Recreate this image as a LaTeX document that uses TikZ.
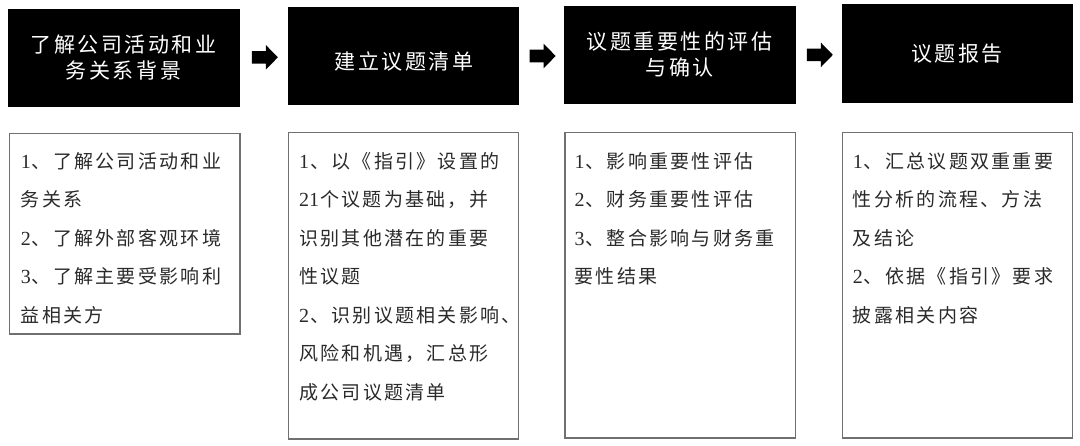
\documentclass[tikz,border=0pt]{standalone}
\usepackage{fontspec}
\newfontfamily\cjk[LetterSpace=12]{Noto Sans CJK SC}
\newfontfamily\num{Liberation Serif}
\usetikzlibrary{calc}
\definecolor{boxgray}{HTML}{707070}
\definecolor{txt}{HTML}{2A2A2A}
\tikzset{
  hdr/.style={fill=black, draw=black, anchor=north west, inner sep=0pt,
    text=white, align=center, font=\cjk\fontsize{21}{26}\selectfont},
  hdrtext/.style={inner sep=0pt, text=white, align=center,
    font=\cjk\fontsize{21}{26}\selectfont},
  bodybox/.style={draw=boxgray, line width=1.5pt, anchor=north west, inner sep=0pt},
  bodytext/.style={anchor=base west, inner sep=0pt, text=txt,
    font=\cjk\fontsize{19}{38.5}\selectfont},
  blockarrow/.style={fill=black}
}
\newcommand{\bodylines}[1]{\begin{minipage}[t]{300pt}\fontsize{19}{38.5}\selectfont#1\end{minipage}}
\newcommand{\dg}[1]{{\num\fontsize{20}{38.5}\selectfont #1\kern1pt}}
\begin{document}
\begin{tikzpicture}[x=1pt,y=-1pt]
\useasboundingbox (0,0) rectangle (1080,446);

% header boxes
\node[hdr, minimum width=231.4pt, minimum height=97.1pt] (h1) at (7.6,8.6) {了解公司活动和业\\务关系背景};
\node[hdr, minimum width=230.6pt, minimum height=97pt] (h2) at (287.7,7) {};
\node[hdrtext] (h2t) at ($(h2.center)+(1,6)$) {建立议题清单};
\node[hdr, minimum width=231pt, minimum height=97pt] (h3) at (564,6) {议题重要性的评估\\与确认};
\node[hdr, minimum width=230.3pt, minimum height=97.5pt] (h4) at (841.7,4.5) {议题报告};

% block arrows between headers
\coordinate (a1) at ($(h1.east)!0.5!(h2.west)+(1.3,0.8)$);
\coordinate (a2) at ($(h2.east)!0.5!(h3.west)+(1.3,0.8)$);
\coordinate (a3) at ($(h3.east)!0.5!(h4.west)+(1.3,0.8)$);
\foreach \a in {a1,a2,a3}{
  \fill[blockarrow] (\a) ++(-13,-6.3) -- ++(14,0) -- ++(0,-6) -- ++(12,12.3)
    -- ++(-12,12.3) -- ++(0,-6) -- ++(-14,0) -- cycle;
}

% body boxes
\node[bodybox, minimum width=230.4pt, minimum height=200.5pt] (b1) at (8.6,132.7) {};
\node[bodybox, minimum width=229.8pt, minimum height=306.8pt] (b2) at (287.7,131.7) {};
\node[bodybox, minimum width=230.5pt, minimum height=305.8pt] (b3) at (564,131.7) {};
\node[bodybox, minimum width=230pt, minimum height=305.8pt] (b4) at (841.7,131.7) {};

% body texts
\node[bodytext] (t1) at ($(b1.north west)+(12,35.5)$) {\bodylines{%
\dg{1}、了解公司活动和业\\
务关系\\
\dg{2}、了解外部客观环境\\
\dg{3}、了解主要受影响利\\
益相关方}};
\node[bodytext] (t2) at ($(b2.north west)+(11.3,36.5)$) {\bodylines{%
\dg{1}、以《指引》设置的\\
\dg{21}个议题为基础，并\\
识别其他潜在的重要\\
性议题\\
\dg{2}、识别议题相关影响、\\
风险和机遇，汇总形\\
成公司议题清单}};
\node[bodytext] (t3) at ($(b3.north west)+(10.4,36.5)$) {\bodylines{%
\dg{1}、影响重要性评估\\
\dg{2}、财务重要性评估\\
\dg{3}、整合影响与财务重\\
要性结果}};
\node[bodytext] (t4) at ($(b4.north west)+(11,36.5)$) {\bodylines{%
\dg{1}、汇总议题双重重要\\
性分析的流程、方法\\
及结论\\
\dg{2}、依据《指引》要求\\
披露相关内容}};
\end{tikzpicture}
\end{document}
